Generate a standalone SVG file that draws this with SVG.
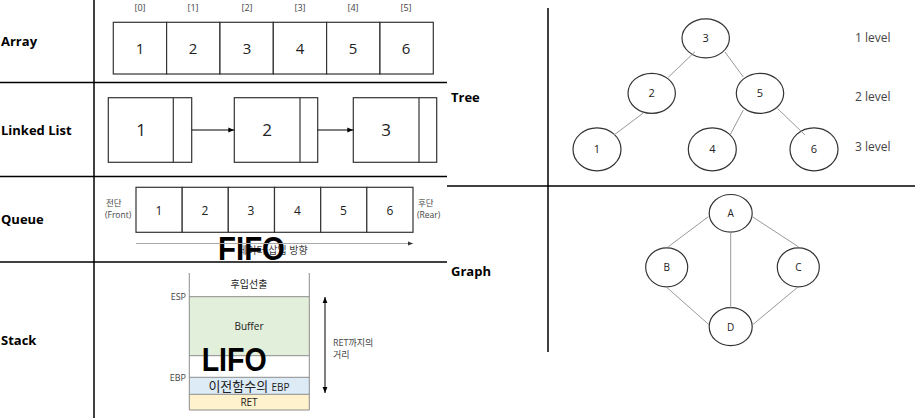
<svg xmlns="http://www.w3.org/2000/svg" width="915" height="418" viewBox="0 0 915 418">
<style>
.lbl{font-family:"Open Sans","Noto Sans","Noto Sans CJK KR",sans-serif;font-weight:bold;font-size:13px;fill:#000}
.t{font-family:"Open Sans","Noto Sans","Noto Sans CJK KR",sans-serif;fill:#222;text-anchor:middle}
.s{font-family:"Open Sans","Noto Sans","Noto Sans CJK KR",sans-serif;fill:#444}
.big{font-family:"Liberation Sans",Arial,sans-serif;font-weight:bold;font-size:34px;fill:#000}
.cell{fill:#fff;stroke:#333;stroke-width:1.2}
.node{fill:#fff;stroke:#333;stroke-width:1.2}
.edge{stroke:#999;stroke-width:1;fill:none}
.grid{stroke:#000;stroke-width:1.5;fill:none}
</style>
<defs>
<marker id="ah" viewBox="0 0 10 10" refX="10" refY="5" markerWidth="6" markerHeight="6" orient="auto-start-reverse" markerUnits="userSpaceOnUse"><path d="M0,1 L10,5 L0,9 z" fill="#000"/></marker>
<marker id="ahg" viewBox="0 0 10 10" refX="10" refY="5" markerWidth="6" markerHeight="5" orient="auto" markerUnits="userSpaceOnUse"><path d="M0,1 L10,5 L0,9 z" fill="#333"/></marker>
</defs>
<rect width="915" height="418" fill="#fff"/>
<g id="grid">
<line class="grid" x1="94" y1="0" x2="94" y2="418"/>
<line class="grid" x1="0" y1="82.5" x2="447" y2="82.5"/>
<line class="grid" x1="0" y1="176.5" x2="447" y2="176.5"/>
<line class="grid" x1="0" y1="262" x2="447" y2="262"/>
<line class="grid" x1="548" y1="8" x2="548" y2="352"/>
<line class="grid" x1="447" y1="186" x2="915" y2="186"/>
</g>
<g id="labels">
<text class="lbl" x="1" y="46">Array</text>
<text class="lbl" x="1" y="135">Linked List</text>
<text class="lbl" x="1" y="224">Queue</text>
<text class="lbl" x="1" y="345">Stack</text>
<text class="lbl" x="451" y="102">Tree</text>
<text class="lbl" x="451" y="276">Graph</text>
</g>
<g id="array">
<g class="s" font-size="9" text-anchor="middle">
<text x="140" y="11">[0]</text><text x="193" y="11">[1]</text><text x="247" y="11">[2]</text><text x="300" y="11">[3]</text><text x="353" y="11">[4]</text><text x="406" y="11">[5]</text>
</g>
<rect class="cell" x="113.3" y="22.3" width="53.3" height="51.7"/>
<rect class="cell" x="166.6" y="22.3" width="53.3" height="51.7"/>
<rect class="cell" x="220" y="22.3" width="53.3" height="51.7"/>
<rect class="cell" x="273.3" y="22.3" width="53.3" height="51.7"/>
<rect class="cell" x="326.6" y="22.3" width="53.3" height="51.7"/>
<rect class="cell" x="380" y="22.3" width="53.3" height="51.7"/>
<g class="t" font-size="15">
<text x="140" y="54">1</text><text x="193" y="54">2</text><text x="247" y="54">3</text><text x="300" y="54">4</text><text x="353" y="54">5</text><text x="406" y="54">6</text>
</g>
</g>
<g id="linked-list">
<g id="ll1"><rect class="cell" x="108.3" y="97.7" width="83.4" height="64.6"/><line class="cell" x1="173.3" y1="97.7" x2="173.3" y2="162.3"/><text class="t" font-size="17" x="141" y="136">1</text></g>
<g id="ll2"><rect class="cell" x="234.3" y="97.7" width="83.4" height="64.6"/><line class="cell" x1="300" y1="97.7" x2="300" y2="162.3"/><text class="t" font-size="17" x="267" y="136">2</text></g>
<g id="ll3"><rect class="cell" x="353.3" y="97.7" width="83.4" height="64.6"/><line class="cell" x1="419" y1="97.7" x2="419" y2="162.3"/><text class="t" font-size="17" x="386" y="136">3</text></g>
</g>
<g id="queue">
<rect class="cell" x="136" y="187.3" width="46.2" height="45"/>
<rect class="cell" x="182.2" y="187.3" width="46.1" height="45"/>
<rect class="cell" x="228.3" y="187.3" width="46.2" height="45"/>
<rect class="cell" x="274.5" y="187.3" width="46.2" height="45"/>
<rect class="cell" x="320.7" y="187.3" width="46.1" height="45"/>
<rect class="cell" x="366.8" y="187.3" width="46.2" height="45"/>
<g class="t" font-size="12">
<text x="159" y="214.5">1</text><text x="205" y="214.5">2</text><text x="251" y="214.5">3</text><text x="297.5" y="214.5">4</text><text x="343.5" y="214.5">5</text><text x="390" y="214.5">6</text>
</g>
<g class="s" font-size="8.5">
<text x="106" y="206">전단</text><text x="105" y="218">(Front)</text>
<text x="418" y="206">후단</text><text x="417" y="218">(Rear)</text>
</g>
<text class="s" font-size="10" x="238" y="254">데이터 삽입 방향</text>
<text class="big" x="218" y="260" textLength="67" lengthAdjust="spacingAndGlyphs">FIFO</text>
</g>
<g id="stack">
<rect x="189.3" y="296.7" width="120" height="59" fill="#e2efda"/>
<rect x="189.3" y="377.3" width="120" height="17" fill="#ddebf7"/>
<rect x="189.3" y="394.3" width="120" height="15.7" fill="#fff2cc"/>
<g stroke="#8c8c8c" stroke-width="1" fill="none">
<line x1="189.3" y1="273" x2="189.3" y2="410"/>
<line x1="309.3" y1="273" x2="309.3" y2="410"/>
<line x1="189.3" y1="296.7" x2="309.3" y2="296.7"/>
<line x1="189.3" y1="355.7" x2="309.3" y2="355.7"/>
<line x1="189.3" y1="377.3" x2="309.3" y2="377.3"/>
<line x1="189.3" y1="394.3" x2="309.3" y2="394.3"/>
<line x1="189.3" y1="410" x2="309.3" y2="410"/>
</g>
<text class="t" font-size="10" x="249" y="288">후입선출</text>
<text class="s" font-size="9" x="186" y="300" text-anchor="end">ESP</text>
<text class="s" font-size="9" x="186" y="381" text-anchor="end">EBP</text>
<text class="t" font-size="10" x="249" y="330">Buffer</text>
<text class="t" x="249" y="390.5"><tspan font-size="13">이전함수의 </tspan><tspan font-size="10">EBP</tspan></text>
<text class="t" font-size="10" x="249" y="406">RET</text>
<text class="s" font-size="9" x="333" y="346">RET까지의</text>
<text class="s" font-size="9" x="333" y="358">거리</text>
<text class="big" x="201.7" y="371" textLength="65" lengthAdjust="spacingAndGlyphs">LIFO</text>
</g>
<g id="tree">
<g id="t3"><ellipse class="node" cx="705.7" cy="38.3" rx="23.7" ry="19.5"/><text class="t" font-size="11" x="705.7" y="42">3</text></g>
<g id="t2"><ellipse class="node" cx="651.7" cy="93.3" rx="23.7" ry="20"/><text class="t" font-size="11" x="651.7" y="97">2</text></g>
<g id="t5"><ellipse class="node" cx="760" cy="93.3" rx="23.7" ry="20"/><text class="t" font-size="11" x="760" y="97">5</text></g>
<g id="t1"><ellipse class="node" cx="597" cy="149.3" rx="24" ry="21.5"/><text class="t" font-size="11" x="597" y="153">1</text></g>
<g id="t4"><ellipse class="node" cx="712.3" cy="149.3" rx="24" ry="21.5"/><text class="t" font-size="11" x="712.3" y="153">4</text></g>
<g id="t6"><ellipse class="node" cx="814" cy="149.3" rx="24" ry="21.5"/><text class="t" font-size="11" x="814" y="153">6</text></g>
<g class="s" font-size="12">
<text x="855" y="42">1 level</text><text x="855" y="101">2 level</text><text x="855" y="151">3 level</text>
</g>
</g>
<g id="graph">
<g id="gA"><ellipse class="node" cx="730.7" cy="213.3" rx="21.5" ry="18.8"/><text class="t" font-size="10" x="730.7" y="217">A</text></g>
<g id="gB"><ellipse class="node" cx="666.7" cy="267.3" rx="21" ry="19.5"/><text class="t" font-size="10" x="666.7" y="271">B</text></g>
<g id="gC"><ellipse class="node" cx="798.3" cy="267.3" rx="21" ry="19.5"/><text class="t" font-size="10" x="798.3" y="271">C</text></g>
<g id="gD"><ellipse class="node" cx="730.7" cy="326.7" rx="21.5" ry="19"/><text class="t" font-size="10" x="730.7" y="330.5">D</text></g>
</g>
<g id="connectors">
<line x1="191.7" y1="130" x2="234.3" y2="130" stroke="#000" stroke-width="1" marker-end="url(#ah)"/>
<line x1="317.7" y1="130" x2="353.3" y2="130" stroke="#000" stroke-width="1" marker-end="url(#ah)"/>
<line x1="136" y1="243.5" x2="413" y2="243.5" stroke="#aaa" stroke-width="1.2" marker-end="url(#ahg)"/>
<line x1="325" y1="297" x2="325" y2="393" stroke="#000" stroke-width="1" marker-start="url(#ah)" marker-end="url(#ah)"/>
<line class="edge" x1="695" y1="51.7" x2="668.3" y2="77.3"/>
<line class="edge" x1="725" y1="52" x2="743.3" y2="77"/>
<line class="edge" x1="643.3" y1="113" x2="614" y2="135"/>
<line class="edge" x1="743.3" y1="110" x2="730" y2="135"/>
<line class="edge" x1="777.7" y1="108.7" x2="805" y2="135"/>
<line class="edge" x1="708.3" y1="216.7" x2="668.3" y2="246.7"/>
<line class="edge" x1="752.3" y1="216.7" x2="798.3" y2="246.7"/>
<line class="edge" x1="730.7" y1="232" x2="730.7" y2="307.7" stroke-width="1.5"/>
<line class="edge" x1="666" y1="286.7" x2="709.3" y2="325"/>
<line class="edge" x1="798.3" y1="286.7" x2="752.3" y2="325"/>
</g>
</svg>
